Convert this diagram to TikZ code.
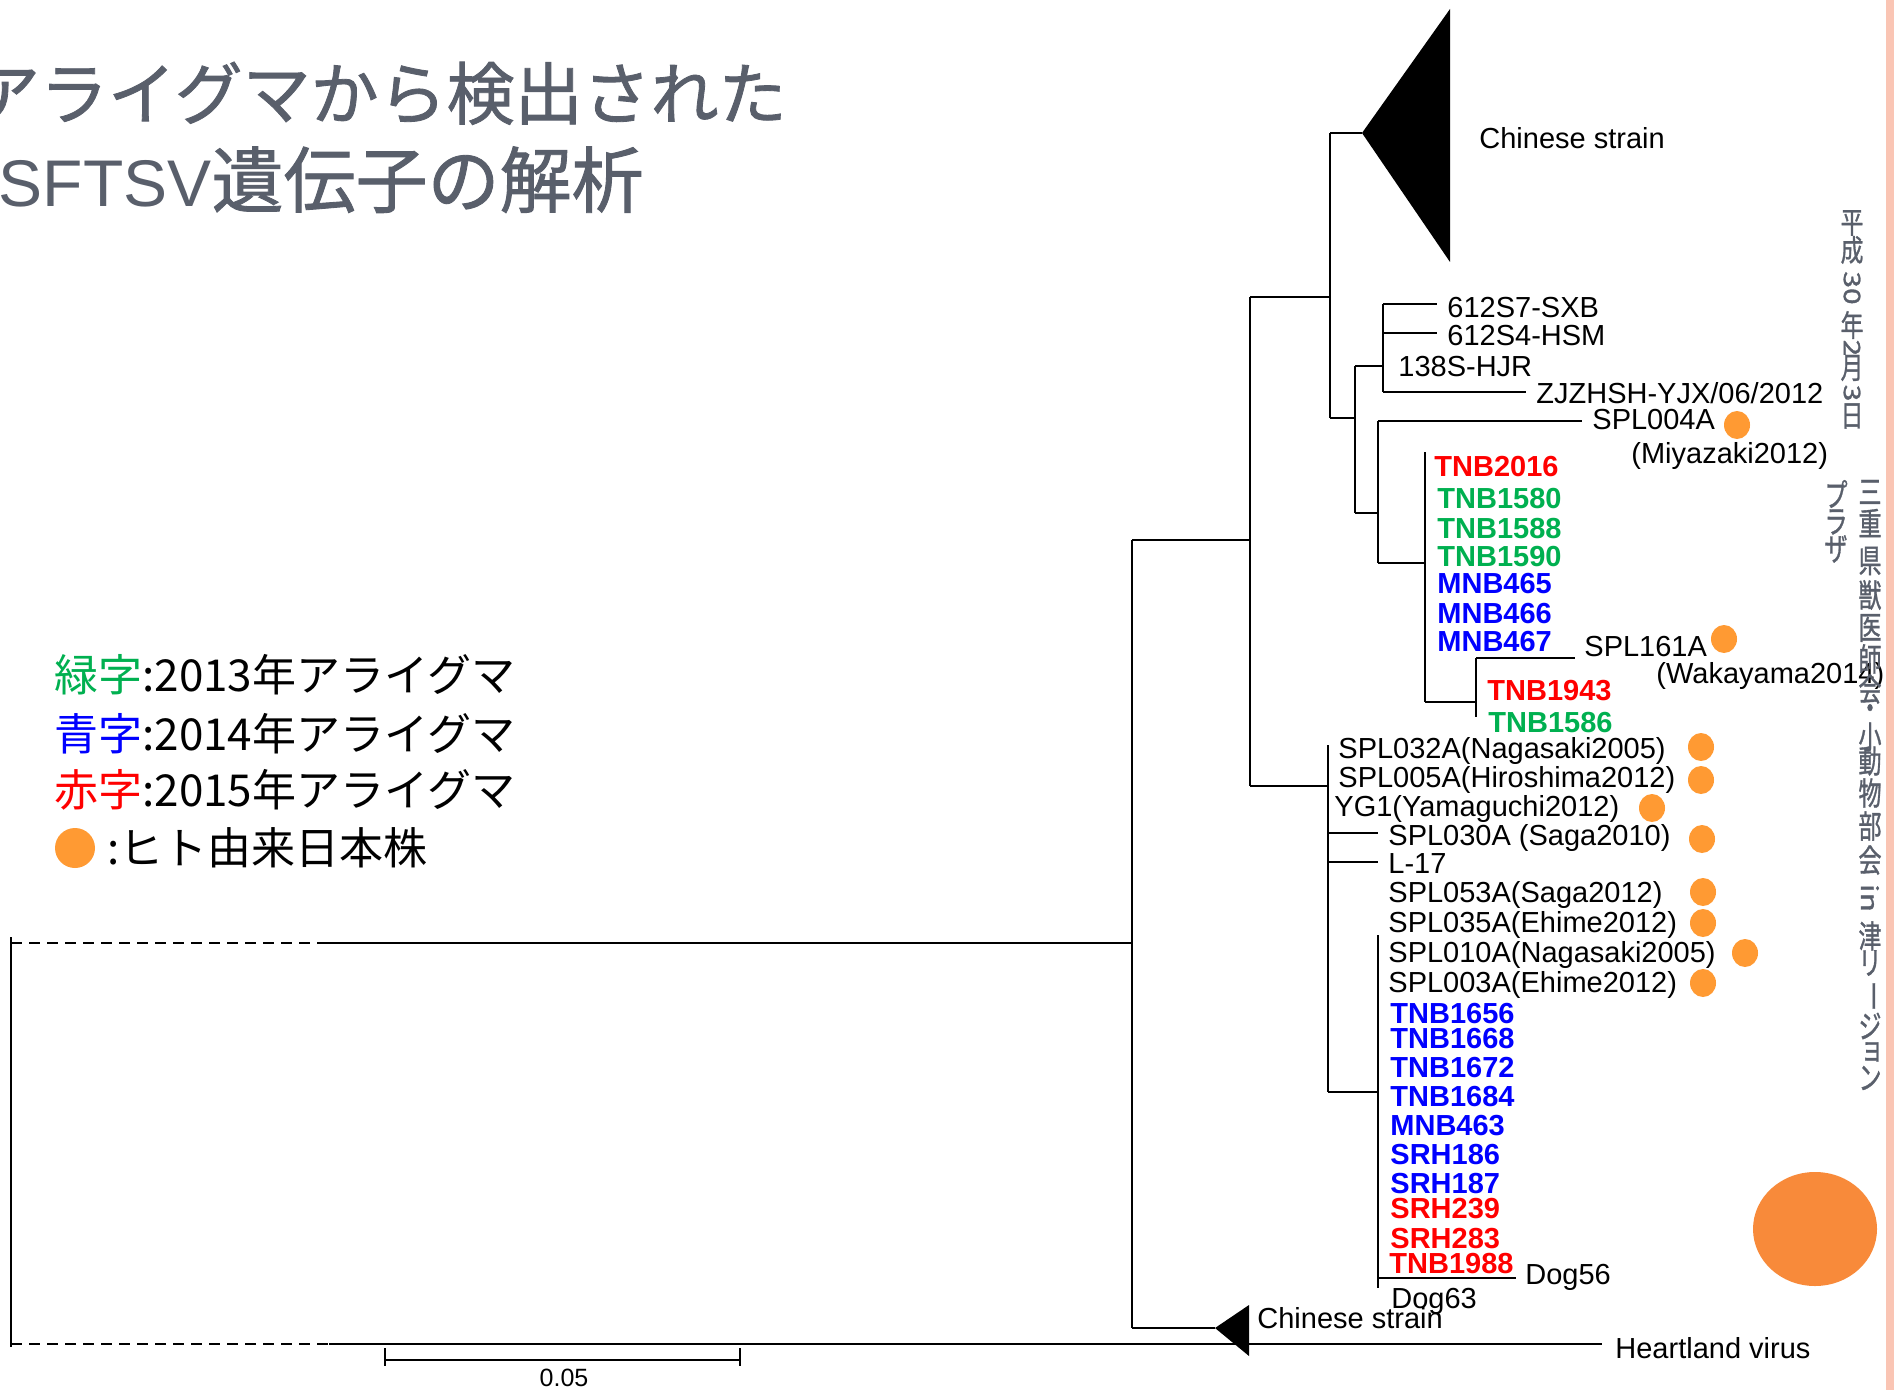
\documentclass[tikz,border=0pt]{standalone}
\usepackage{fontspec}
\setmainfont{Liberation Sans}
\newfontfamily\jp{Noto Sans CJK JP}
\newfontfamily\jpt[FakeBold=1.2]{Noto Sans CJK JP}
\usetikzlibrary{shapes.geometric}
\definecolor{gtxt}{RGB}{89,95,107}
\definecolor{lgreen}{RGB}{0,176,80}
\definecolor{lblue}{RGB}{0,0,255}
\definecolor{lred}{RGB}{255,0,0}
\definecolor{dotc}{RGB}{255,154,51}
\definecolor{bigdot}{RGB}{248,138,58}
\definecolor{stripe}{RGB}{250,197,180}
\begin{document}
\begin{tikzpicture}[x=0.5pt,y=-0.5pt,
  br/.style={line width=1pt},
  rootline/.style={line width=1.4pt},
  rootdash/.style={line width=1pt,dash pattern=on 5.5pt off 3.5pt},
  lab/.style={anchor=west,inner sep=0pt,font=\fontsize{14.5}{17}\selectfont,text height=10.5pt,text depth=0pt},
  clab/.style={lab,font=\fontsize{14.5}{17}\selectfont\bfseries},
  hdot/.style={fill=dotc,draw=none,ellipse,minimum width=13pt,minimum height=14pt,inner sep=0pt},
  vch/.style={inner sep=0pt,font=\jpt\fontsize{15}{15}\selectfont,text=gtxt,xscale=0.76},
  vchb/.style={inner sep=0pt,font=\jpt\fontsize{16}{16}\selectfont,text=gtxt,xscale=0.72},
  leg/.style={anchor=west,inner sep=0pt,font=\jp\fontsize{22}{26}\selectfont},
  ttl/.style={anchor=base east,inner sep=0pt,text=gtxt},
]
\fill[white] (0,0) rectangle (1894,1390);
\useasboundingbox (0,0) rectangle (1894,1390);
\clip (0,0) rectangle (1894,1390);

% pink stripe
\fill[stripe] (1886,0) rectangle (1894,1390);

% title
\node[ttl,font=\jpt\fontsize{34}{40}\selectfont] (title1) at (787,119) {アライグマから検出された};
\node[ttl,font=\jpt\fontsize{36}{40}\selectfont] (title2) at (644,207) {{\normalfont\fontsize{33}{40}\selectfont SFTSV}遺伝子の解析};

% legend
\node[leg] (lg1) at (54,675) {\textcolor{lgreen}{緑字}:2013年アライグマ};
\node[leg] (lg2) at (54,734) {\textcolor{lblue}{青字}:2014年アライグマ};
\node[leg] (lg3) at (54,790) {\textcolor{lred}{赤字}:2015年アライグマ};
\node[circle,fill=dotc,minimum size=20pt,inner sep=0pt] (lgd) at (75,848) {};
\node[leg] (lg4) at (107,848) {:ヒト由来日本株};

% coordinates of the tree
\coordinate (Rt) at (11,937); \coordinate (Rb) at (11,1347);
\coordinate (R1) at (11,943); \coordinate (R1s) at (325,943);
\coordinate (R2) at (11,1344); \coordinate (R2s) at (329,1344);
\coordinate (A) at (1132,943); \coordinate (At) at (1132,540); \coordinate (Ab) at (1132,1328);
\coordinate (B) at (1250,540); \coordinate (Bt) at (1250,297); \coordinate (Bb) at (1250,786);
\coordinate (C) at (1330,297); \coordinate (Ct) at (1330,133); \coordinate (Cb) at (1330,418);
\coordinate (D) at (1355,418); \coordinate (Dt) at (1355,366); \coordinate (Db) at (1355,513);
\coordinate (E) at (1383,366); \coordinate (Et) at (1383,304); \coordinate (Eb) at (1383,392);
\coordinate (F) at (1378,513); \coordinate (Ft) at (1378,421); \coordinate (Fb) at (1378,563);
\coordinate (G) at (1425,563); \coordinate (Gt) at (1425,452); \coordinate (Gb) at (1425,702);
\coordinate (H) at (1476,702); \coordinate (Ht) at (1476,658); \coordinate (Hb) at (1476,717);
\coordinate (J) at (1328,786); \coordinate (Jt) at (1328,745); \coordinate (Jb) at (1328,1092);
\coordinate (K) at (1378,1092); \coordinate (Kt) at (1378,935); \coordinate (Kb) at (1378,1288);
\coordinate (T1) at (1362,133); \coordinate (T1a) at (1450,9); \coordinate (T1b) at (1450,262);
\coordinate (T2) at (1215,1328); \coordinate (T2a) at (1249,1305); \coordinate (T2b) at (1249,1356);
\coordinate (tSXB) at (1437,304); \coordinate (tHSM) at (1437,333); \coordinate (tZJ) at (1526,392);
\coordinate (t004) at (1582,421); \coordinate (t161) at (1575,658);
\coordinate (t030) at (1378,833); \coordinate (tL17) at (1378,862);
\coordinate (tDog) at (1516,1278); \coordinate (tHV) at (1602,1344);

% root
\draw[br] (Rt) -- (Rb);
\draw[rootdash] (R1) -- (R1s);
\draw[rootline] (R1s) -- (A);
\draw[rootdash] (R2) -- (R2s);
\draw[rootline] (R2s) -- (tHV);
% internal branches
\draw[br] (At) -- (Ab);
\draw[br] (Ab) -- (T2);
\draw[br] (At) -- (B);
\draw[br] (Bt) -- (Bb);
\draw[br] (Bt) -- (C);
\draw[br] (Ct) -- (Cb);
\draw[br] (Ct) -- (T1);
\draw[br] (Cb) -- (D);
\draw[br] (Dt) -- (Db);
\draw[br] (Dt) -- (E);
\draw[br] (Et) -- (Eb);
\draw[br] (Et) -- (tSXB);
\draw[br] (E |- tHSM) -- (tHSM);
\draw[br] (Eb) -- (tZJ);
\draw[br] (Db) -- (F);
\draw[br] (Ft) -- (Fb);
\draw[br] (Ft) -- (t004);
\draw[br] (Fb) -- (G);
\draw[br] (Gt) -- (Gb);
\draw[br] (Gb) -- (H);
\draw[br] (Ht) -- (Hb);
\draw[br] (Ht) -- (t161);
\draw[br] (Bb) -- (J);
\draw[br] (Jt) -- (Jb);
\draw[br] (J |- t030) -- (t030);
\draw[br] (J |- tL17) -- (tL17);
\draw[br] (Jb) -- (K);
\draw[br] (Kt) -- (Kb);
\draw[br] (K |- tDog) -- (tDog);
% collapsed clades
\fill (T1) -- (T1a) -- (T1b) -- cycle;
\fill (T2) -- (T2a) -- (T2b) -- cycle;

% black labels
\node[lab] (cs1) at (1479,138) {Chinese strain};
\node[lab] (nSXB) at (1447,307) {612S7-SXB};
\node[lab] (nHSM) at (1447,335) {612S4-HSM};
\node[lab] (nHJR) at (1398,366) {138S-HJR};
\node[lab] (nZJ) at (1536,393) {ZJZHSH-YJX/06/2012};
\node[lab] (n004) at (1592,419) {SPL004A};
\node[lab] (nMiy) at (1631,453) {(Miyazaki2012)};
\node[lab] (n161) at (1584,646) {SPL161A};
\node[lab] (nWak) at (1656,673) {(Wakayama2014)};
\node[lab] (n032) at (1338,748) {SPL032A(Nagasaki2005)};
\node[lab] (n005) at (1338,777) {SPL005A(Hiroshima2012)};
\node[lab] (nYG1) at (1334,806) {YG1(Yamaguchi2012)};
\node[lab] (n030) at (1388,835) {SPL030A (Saga2010)};
\node[lab] (nL17) at (1388,863) {L-17};
\node[lab] (n053) at (1388,892) {SPL053A(Saga2012)};
\node[lab] (n035) at (1388,922) {SPL035A(Ehime2012)};
\node[lab] (n010) at (1388,952) {SPL010A(Nagasaki2005)};
\node[lab] (n003) at (1388,982) {SPL003A(Ehime2012)};
\node[lab] (nD56) at (1525,1274) {Dog56};
\node[lab] (nD63) at (1391,1298) {Dog63};
\node[lab] (cs2) at (1257,1318) {Chinese strain};
\node[lab] (nHV) at (1615,1348) {Heartland virus};

% coloured labels
\node[clab,text=lred] (c2016) at (1434,466) {TNB2016};
\node[clab,text=lgreen] (c1580) at (1437,498) {TNB1580};
\node[clab,text=lgreen] (c1588) at (1437,528) {TNB1588};
\node[clab,text=lgreen] (c1590) at (1437,556) {TNB1590};
\node[clab,text=lblue] (c465) at (1437,583) {MNB465};
\node[clab,text=lblue] (c466) at (1437,613) {MNB466};
\node[clab,text=lblue] (c467) at (1437,641) {MNB467};
\node[clab,text=lred] (c1943) at (1487,690) {TNB1943};
\node[clab,text=lgreen] (c1586) at (1488,722) {TNB1586};
\node[clab,text=lblue] (c1656) at (1390,1013) {TNB1656};
\node[clab,text=lblue] (c1668) at (1390,1038) {TNB1668};
\node[clab,text=lblue] (c1672) at (1390,1067) {TNB1672};
\node[clab,text=lblue] (c1684) at (1390,1096) {TNB1684};
\node[clab,text=lblue] (c463) at (1390,1125) {MNB463};
\node[clab,text=lblue] (c186) at (1390,1154) {SRH186};
\node[clab,text=lblue] (c187) at (1390,1183) {SRH187};
\node[clab,text=lred] (c239) at (1390,1208) {SRH239};
\node[clab,text=lred] (c283) at (1390,1238) {SRH283};
\node[clab,text=lred] (c1988) at (1389,1263) {TNB1988};

% human-derived dots
\node[hdot] (d004) at (1737,425) {};
\node[hdot] (d161) at (1724,639) {};
\node[hdot] (d032) at (1701,747) {};
\node[hdot] (d005) at (1701,780) {};
\node[hdot] (dYG1) at (1652,808) {};
\node[hdot] (d030) at (1702,839) {};
\node[hdot] (d053) at (1703,892) {};
\node[hdot] (d035) at (1703,923) {};
\node[hdot] (d010) at (1745,953) {};
\node[hdot] (d003) at (1703,983) {};
\fill[bigdot] (1815,1229) ellipse [x radius=31pt,y radius=28.5pt];

% scale bar
\coordinate (S1) at (385,1360); \coordinate (S2) at (740,1360);
\draw[br] (S1) -- (S2);
\draw[br] (S1) ++(0,-12) -- ++(0,18);
\draw[br] (S2) ++(0,-12) -- ++(0,18);
\node[inner sep=0pt,font=\fontsize{12.5}{14}\selectfont] (sc) at (564,1378) {0.05};

% vertical side text
\foreach \c/\yy [count=\i] in {平/223,成/250,年/325,月/368,日/416}
  \node[vch] (va\i) at (1852,\yy) {\c};
\node[vch,rotate=-90] (va30) at (1852,288) {30};
\node[vch,rotate=-90] (va2) at (1852,348) {2};
\node[vch,rotate=-90] (va3) at (1852,393) {3};
\foreach \c/\yy [count=\i] in {三/492,重/523,県/561,獣/595,医/628,師/659,会/689,・/712,小/737,動/761,物/793,部/826,会/860,津/936,リ/963,ジ/1026,ン/1078}
  \node[vchb] (vb\i) at (1870,\yy) {\c};
\node[vchb] (vbyo) at (1872,1052) {ョ};
\node[vchb,rotate=-90] (vbin) at (1870,898) {in};
\node[vchb,rotate=-90] (vbdash) at (1870,996) {ー};
\foreach \c/\yy [count=\i] in {プ/494,ラ/522,ザ/549}
  \node[vchb] (vc\i) at (1836,\yy) {\c};
\end{tikzpicture}
\end{document}
